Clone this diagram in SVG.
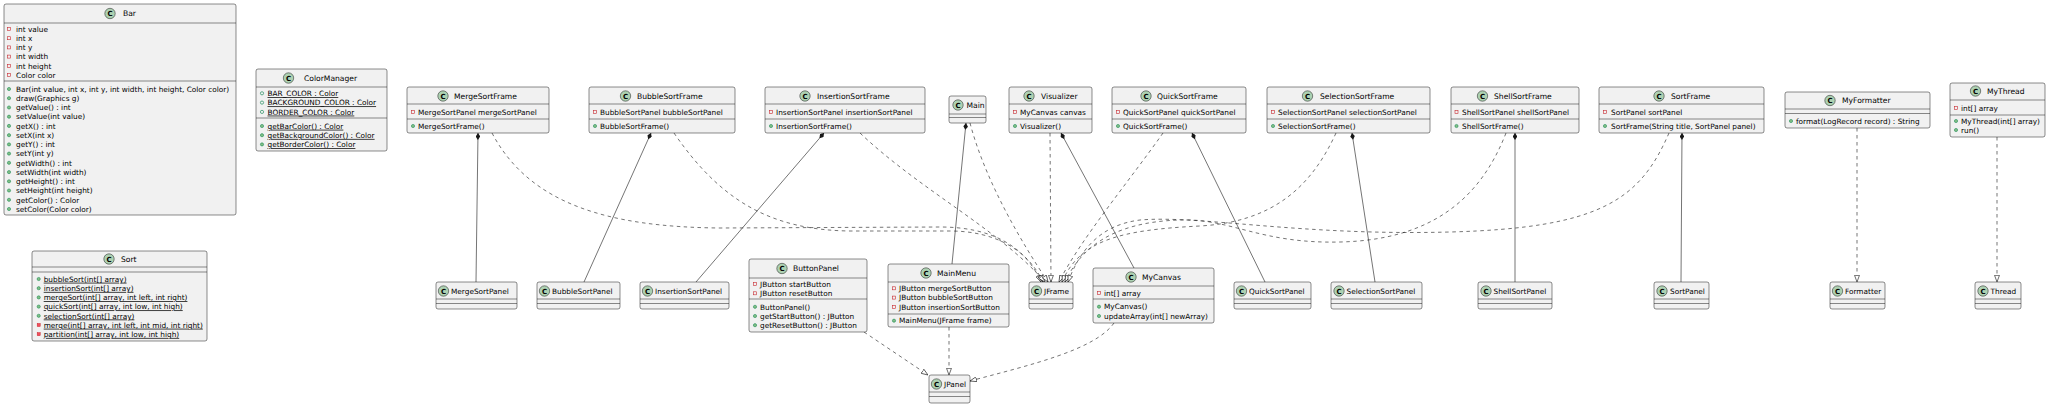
<svg xmlns="http://www.w3.org/2000/svg" width="2048" height="406" viewBox="0 0 2048 406">
<style>
.box{fill:#F1F1F1;stroke:#181818;stroke-width:0.5}
.sep{stroke:#181818;stroke-width:0.5}
.ci{fill:#ADD1B2;stroke:#181818;stroke-width:0.5}
.cl{font-family:"DejaVu Sans",sans-serif;font-size:7px;font-weight:bold;text-anchor:middle;fill:#000}
.t{font-family:"DejaVu Sans",sans-serif;font-size:7.35px;fill:#000}
.h{font-size:7.6px}
.u{text-decoration:underline}
.pv{fill:none;stroke:#C82930;stroke-width:0.6}
.pvm{fill:#F24D5C;stroke:#C82930;stroke-width:0.5}
.pb{fill:#84BE84;stroke:#038048;stroke-width:0.5}
.pbf{fill:none;stroke:#038048;stroke-width:0.6}
.comp{fill:none;stroke:#181818;stroke-width:0.6;marker-end:url(#diamond)}
.inh{fill:none;stroke:#181818;stroke-width:0.6;stroke-dasharray:3.5,3.5;marker-end:url(#tri)}
</style>
<defs>
<marker id="diamond" viewBox="0 0 12 8" refX="12" refY="4" markerWidth="7" markerHeight="4.6" orient="auto" markerUnits="userSpaceOnUse"><path d="M0,4 L6,0 L12,4 L6,8 Z" fill="#181818"/></marker>
<marker id="tri" viewBox="0 0 10 8" refX="10" refY="4" markerWidth="7" markerHeight="5.6" orient="auto" markerUnits="userSpaceOnUse"><path d="M0.5,0.5 L10,4 L0.5,7.5 Z" fill="#ffffff" stroke="#181818" stroke-width="0.9" stroke-dasharray="none"/></marker>
</defs>
<rect x="0" y="0" width="2048" height="406" fill="#ffffff"/>

<g id="connectors">
<path class="comp" d="M476,282 L478,133"/>
<path class="comp" d="M584,282 L651,133"/>
<path class="comp" d="M696,282 L824,133"/>
<path class="comp" d="M952,264 L966,123"/>
<path class="comp" d="M1134,268 L1061,133"/>
<path class="comp" d="M1265,282 L1192,133"/>
<path class="comp" d="M1375,282 L1352,133"/>
<path class="comp" d="M1515,282 L1515,133"/>
<path class="comp" d="M1681,282 L1682,133"/>
<path class="inh" d="M492,133 C530,205 610,227 720,228 L940,227 C990,227 1025,245 1041,282"/>
<path class="inh" d="M674,133 C720,200 770,230 850,231 L950,231 C995,231 1028,250 1043,282"/>
<path class="inh" d="M860,133 C920,190 1000,230 1045,282"/>
<path class="inh" d="M970,123 C985,180 1020,240 1048,282"/>
<path class="inh" d="M1050,133 L1051,282"/>
<path class="inh" d="M1163,133 C1130,180 1080,240 1059,282"/>
<path class="inh" d="M1336,133 C1310,190 1270,222 1200,226 C1120,230 1080,240 1062,282"/>
<path class="inh" d="M1506,133 C1480,200 1430,240 1340,242 C1260,244 1230,218 1180,220 C1110,222 1080,250 1065,282"/>
<path class="inh" d="M1669,133 C1640,200 1600,228 1450,232 C1300,236 1200,215 1140,220 C1100,225 1080,250 1068,282"/>
<path class="inh" d="M1114,323 C1095,350 1030,365 970,381"/>
<path class="inh" d="M864,332 L928,375"/>
<path class="inh" d="M949,327 L949,375"/>
<path class="inh" d="M1857,128 L1857,282"/>
<path class="inh" d="M1997,137 L1997,282"/>
</g>

<g id="Bar">
<rect class="box" x="4" y="4" width="232" height="211" rx="2"/>
<line class="sep" x1="4" y1="23" x2="236" y2="23"/>
<line class="sep" x1="4" y1="81" x2="236" y2="81"/>
<circle class="ci" cx="110" cy="13.5" r="5.2"/><text class="cl" x="110" y="16">C</text>
<text class="t h" x="123" y="16.2">Bar</text>
<rect class="pv" x="7.5" y="27.5" width="3" height="3"/><text class="t" x="16" y="31.7">int value</text>
<rect class="pv" x="7.5" y="36.7" width="3" height="3"/><text class="t" x="16" y="40.9">int x</text>
<rect class="pv" x="7.5" y="45.9" width="3" height="3"/><text class="t" x="16" y="50.1">int y</text>
<rect class="pv" x="7.5" y="55.1" width="3" height="3"/><text class="t" x="16" y="59.3">int width</text>
<rect class="pv" x="7.5" y="64.3" width="3" height="3"/><text class="t" x="16" y="68.5">int height</text>
<rect class="pv" x="7.5" y="73.5" width="3" height="3"/><text class="t" x="16" y="77.7">Color color</text>
<circle class="pb" cx="9" cy="89" r="1.6"/><text class="t" x="16" y="91.7">Bar(int value, int x, int y, int width, int height, Color color)</text>
<circle class="pb" cx="9" cy="98.2" r="1.6"/><text class="t" x="16" y="100.9">draw(Graphics g)</text>
<circle class="pb" cx="9" cy="107.5" r="1.6"/><text class="t" x="16" y="110.2">getValue() : int</text>
<circle class="pb" cx="9" cy="116.7" r="1.6"/><text class="t" x="16" y="119.4">setValue(int value)</text>
<circle class="pb" cx="9" cy="125.9" r="1.6"/><text class="t" x="16" y="128.6">getX() : int</text>
<circle class="pb" cx="9" cy="135.2" r="1.6"/><text class="t" x="16" y="137.9">setX(int x)</text>
<circle class="pb" cx="9" cy="144.4" r="1.6"/><text class="t" x="16" y="147.1">getY() : int</text>
<circle class="pb" cx="9" cy="153.6" r="1.6"/><text class="t" x="16" y="156.3">setY(int y)</text>
<circle class="pb" cx="9" cy="162.8" r="1.6"/><text class="t" x="16" y="165.5">getWidth() : int</text>
<circle class="pb" cx="9" cy="172.1" r="1.6"/><text class="t" x="16" y="174.8">setWidth(int width)</text>
<circle class="pb" cx="9" cy="181.3" r="1.6"/><text class="t" x="16" y="184.0">getHeight() : int</text>
<circle class="pb" cx="9" cy="190.5" r="1.6"/><text class="t" x="16" y="193.2">setHeight(int height)</text>
<circle class="pb" cx="9" cy="199.8" r="1.6"/><text class="t" x="16" y="202.5">getColor() : Color</text>
<circle class="pb" cx="9" cy="209" r="1.6"/><text class="t" x="16" y="211.7">setColor(Color color)</text>
</g>

<g id="ColorManager">
<rect class="box" x="256" y="69" width="131" height="82" rx="2"/>
<line class="sep" x1="256" y1="87" x2="387" y2="87"/>
<line class="sep" x1="256" y1="118" x2="387" y2="118"/>
<circle class="ci" cx="288.5" cy="78" r="5.2"/><text class="cl" x="288.5" y="80.5">C</text>
<text class="t h" x="304" y="80.7">ColorManager</text>
<circle class="pbf" cx="262" cy="93.3" r="1.6"/><text class="t u" x="267.5" y="96">BAR_COLOR : Color</text>
<circle class="pbf" cx="262" cy="102.6" r="1.6"/><text class="t u" x="267.5" y="105.3">BACKGROUND_COLOR : Color</text>
<circle class="pbf" cx="262" cy="111.9" r="1.6"/><text class="t u" x="267.5" y="114.6">BORDER_COLOR : Color</text>
<circle class="pb" cx="262" cy="126" r="1.6"/><text class="t u" x="267.5" y="128.7">getBarColor() : Color</text>
<circle class="pb" cx="262" cy="135.2" r="1.6"/><text class="t u" x="267.5" y="137.9">getBackgroundColor() : Color</text>
<circle class="pb" cx="262" cy="144.4" r="1.6"/><text class="t u" x="267.5" y="147.1">getBorderColor() : Color</text>
</g>

<g id="Sort">
<rect class="box" x="32" y="251" width="175" height="90" rx="2"/>
<line class="sep" x1="32" y1="267" x2="207" y2="267"/>
<line class="sep" x1="32" y1="272" x2="207" y2="272"/>
<circle class="ci" cx="109" cy="259" r="5.2"/><text class="cl" x="109" y="261.5">C</text>
<text class="t h" x="121" y="261.7">Sort</text>
<circle class="pb" cx="38.7" cy="279" r="1.6"/><text class="t u" x="43.7" y="281.7">bubbleSort(int[] array)</text>
<circle class="pb" cx="38.7" cy="288.2" r="1.6"/><text class="t u" x="43.7" y="290.9">insertionSort(int[] array)</text>
<circle class="pb" cx="38.7" cy="297.4" r="1.6"/><text class="t u" x="43.7" y="300.1">mergeSort(int[] array, int left, int right)</text>
<circle class="pb" cx="38.7" cy="306.6" r="1.6"/><text class="t u" x="43.7" y="309.3">quickSort(int[] array, int low, int high)</text>
<circle class="pb" cx="38.7" cy="315.8" r="1.6"/><text class="t u" x="43.7" y="318.5">selectionSort(int[] array)</text>
<rect class="pvm" x="37.2" y="323.5" width="3" height="3"/><text class="t u" x="43.7" y="327.7">merge(int[] array, int left, int mid, int right)</text>
<rect class="pvm" x="37.2" y="332.7" width="3" height="3"/><text class="t u" x="43.7" y="336.9">partition(int[] array, int low, int high)</text>
</g>

<g id="MergeSortFrame">
<rect class="box" x="407" y="87" width="142" height="46" rx="2"/>
<line class="sep" x1="407" y1="104" x2="549" y2="104"/>
<line class="sep" x1="407" y1="119" x2="549" y2="119"/>
<circle class="ci" cx="443" cy="96" r="5.2"/><text class="cl" x="443" y="98.5">C</text>
<text class="t h" x="454" y="98.7">MergeSortFrame</text>
<rect class="pv" x="411.5" y="110.5" width="3" height="3"/><text class="t" x="418" y="114.7">MergeSortPanel mergeSortPanel</text>
<circle class="pb" cx="413" cy="126" r="1.6"/><text class="t" x="418" y="128.7">MergeSortFrame()</text>
</g>

<g id="BubbleSortFrame">
<rect class="box" x="589" y="87" width="146" height="46" rx="2"/>
<line class="sep" x1="589" y1="104" x2="735" y2="104"/>
<line class="sep" x1="589" y1="119" x2="735" y2="119"/>
<circle class="ci" cx="625.5" cy="96" r="5.2"/><text class="cl" x="625.5" y="98.5">C</text>
<text class="t h" x="637" y="98.7">BubbleSortFrame</text>
<rect class="pv" x="593.5" y="110.5" width="3" height="3"/><text class="t" x="600" y="114.7">BubbleSortPanel bubbleSortPanel</text>
<circle class="pb" cx="595" cy="126" r="1.6"/><text class="t" x="600" y="128.7">BubbleSortFrame()</text>
</g>

<g id="InsertionSortFrame">
<rect class="box" x="765" y="87" width="160" height="46" rx="2"/>
<line class="sep" x1="765" y1="104" x2="925" y2="104"/>
<line class="sep" x1="765" y1="119" x2="925" y2="119"/>
<circle class="ci" cx="805" cy="96" r="5.2"/><text class="cl" x="805" y="98.5">C</text>
<text class="t h" x="817" y="98.7">InsertionSortFrame</text>
<rect class="pv" x="769.5" y="110.5" width="3" height="3"/><text class="t" x="776" y="114.7">InsertionSortPanel insertionSortPanel</text>
<circle class="pb" cx="771" cy="126" r="1.6"/><text class="t" x="776" y="128.7">InsertionSortFrame()</text>
</g>

<g id="Main">
<rect class="box" x="949" y="96" width="37" height="27" rx="2"/>
<line class="sep" x1="949" y1="114" x2="986" y2="114"/>
<line class="sep" x1="949" y1="117.5" x2="986" y2="117.5"/>
<circle class="ci" cx="958" cy="105" r="5.2"/><text class="cl" x="958" y="107.5">C</text>
<text class="t h" x="966.5" y="107.7">Main</text>
</g>

<g id="Visualizer">
<rect class="box" x="1009" y="87" width="83" height="46" rx="2"/>
<line class="sep" x1="1009" y1="104" x2="1092" y2="104"/>
<line class="sep" x1="1009" y1="119" x2="1092" y2="119"/>
<circle class="ci" cx="1029" cy="96" r="5.2"/><text class="cl" x="1029" y="98.5">C</text>
<text class="t h" x="1041" y="98.7">Visualizer</text>
<rect class="pv" x="1013.5" y="110.5" width="3" height="3"/><text class="t" x="1020" y="114.7">MyCanvas canvas</text>
<circle class="pb" cx="1015" cy="126" r="1.6"/><text class="t" x="1020" y="128.7">Visualizer()</text>
</g>

<g id="QuickSortFrame">
<rect class="box" x="1112" y="87" width="134" height="46" rx="2"/>
<line class="sep" x1="1112" y1="104" x2="1246" y2="104"/>
<line class="sep" x1="1112" y1="119" x2="1246" y2="119"/>
<circle class="ci" cx="1146" cy="96" r="5.2"/><text class="cl" x="1146" y="98.5">C</text>
<text class="t h" x="1157" y="98.7">QuickSortFrame</text>
<rect class="pv" x="1116.5" y="110.5" width="3" height="3"/><text class="t" x="1123" y="114.7">QuickSortPanel quickSortPanel</text>
<circle class="pb" cx="1118" cy="126" r="1.6"/><text class="t" x="1123" y="128.7">QuickSortFrame()</text>
</g>

<g id="SelectionSortFrame">
<rect class="box" x="1267" y="87" width="163" height="46" rx="2"/>
<line class="sep" x1="1267" y1="104" x2="1430" y2="104"/>
<line class="sep" x1="1267" y1="119" x2="1430" y2="119"/>
<circle class="ci" cx="1307.5" cy="96" r="5.2"/><text class="cl" x="1307.5" y="98.5">C</text>
<text class="t h" x="1320" y="98.7">SelectionSortFrame</text>
<rect class="pv" x="1271.5" y="110.5" width="3" height="3"/><text class="t" x="1278" y="114.7">SelectionSortPanel selectionSortPanel</text>
<circle class="pb" cx="1273" cy="126" r="1.6"/><text class="t" x="1278" y="128.7">SelectionSortFrame()</text>
</g>

<g id="ShellSortFrame">
<rect class="box" x="1451" y="87" width="128" height="46" rx="2"/>
<line class="sep" x1="1451" y1="104" x2="1579" y2="104"/>
<line class="sep" x1="1451" y1="119" x2="1579" y2="119"/>
<circle class="ci" cx="1482.5" cy="96" r="5.2"/><text class="cl" x="1482.5" y="98.5">C</text>
<text class="t h" x="1494" y="98.7">ShellSortFrame</text>
<rect class="pv" x="1455" y="110.5" width="3" height="3"/><text class="t" x="1462" y="114.7">ShellSortPanel shellSortPanel</text>
<circle class="pb" cx="1456.5" cy="126" r="1.6"/><text class="t" x="1462" y="128.7">ShellSortFrame()</text>
</g>

<g id="SortFrame">
<rect class="box" x="1599" y="87" width="165" height="46" rx="2"/>
<line class="sep" x1="1599" y1="104" x2="1764" y2="104"/>
<line class="sep" x1="1599" y1="119" x2="1764" y2="119"/>
<circle class="ci" cx="1659" cy="96" r="5.2"/><text class="cl" x="1659" y="98.5">C</text>
<text class="t h" x="1671" y="98.7">SortFrame</text>
<rect class="pv" x="1603.5" y="110.5" width="3" height="3"/><text class="t" x="1611" y="114.7">SortPanel sortPanel</text>
<circle class="pb" cx="1605" cy="126" r="1.6"/><text class="t" x="1611" y="128.7">SortFrame(String title, SortPanel panel)</text>
</g>

<g id="MyFormatter">
<rect class="box" x="1785" y="92" width="145" height="36" rx="2"/>
<line class="sep" x1="1785" y1="109" x2="1930" y2="109"/>
<line class="sep" x1="1785" y1="113.5" x2="1930" y2="113.5"/>
<circle class="ci" cx="1830" cy="100.5" r="5.2"/><text class="cl" x="1830" y="103">C</text>
<text class="t h" x="1842" y="103.2">MyFormatter</text>
<circle class="pb" cx="1791" cy="121" r="1.6"/><text class="t" x="1796" y="123.7">format(LogRecord record) : String</text>
</g>

<g id="MyThread">
<rect class="box" x="1950" y="83" width="95" height="54" rx="2"/>
<line class="sep" x1="1950" y1="100" x2="2045" y2="100"/>
<line class="sep" x1="1950" y1="115" x2="2045" y2="115"/>
<circle class="ci" cx="1975.5" cy="91" r="5.2"/><text class="cl" x="1975.5" y="93.5">C</text>
<text class="t h" x="1987" y="93.7">MyThread</text>
<rect class="pv" x="1954.5" y="106.5" width="3" height="3"/><text class="t" x="1961" y="110.7">int[] array</text>
<circle class="pb" cx="1956" cy="121" r="1.6"/><text class="t" x="1961" y="123.7">MyThread(int[] array)</text>
<circle class="pb" cx="1956" cy="130" r="1.6"/><text class="t" x="1961" y="132.7">run()</text>
</g>

<g id="MergeSortPanel">
<rect class="box" x="436" y="282" width="81" height="27" rx="2"/>
<line class="sep" x1="436" y1="299" x2="517" y2="299"/>
<line class="sep" x1="436" y1="303.5" x2="517" y2="303.5"/>
<circle class="ci" cx="443.5" cy="291" r="5.2"/><text class="cl" x="443.5" y="293.5">C</text>
<text class="t" x="451" y="293.7">MergeSortPanel</text>
</g>

<g id="BubbleSortPanel">
<rect class="box" x="537" y="282" width="83" height="27" rx="2"/>
<line class="sep" x1="537" y1="299" x2="620" y2="299"/>
<line class="sep" x1="537" y1="303.5" x2="620" y2="303.5"/>
<circle class="ci" cx="544.5" cy="291" r="5.2"/><text class="cl" x="544.5" y="293.5">C</text>
<text class="t" x="552" y="293.7">BubbleSortPanel</text>
</g>

<g id="InsertionSortPanel">
<rect class="box" x="640" y="282" width="89" height="27" rx="2"/>
<line class="sep" x1="640" y1="299" x2="729" y2="299"/>
<line class="sep" x1="640" y1="303.5" x2="729" y2="303.5"/>
<circle class="ci" cx="647.5" cy="291" r="5.2"/><text class="cl" x="647.5" y="293.5">C</text>
<text class="t" x="655" y="293.7">InsertionSortPanel</text>
</g>

<g id="ButtonPanel">
<rect class="box" x="749" y="259" width="118" height="73" rx="2"/>
<line class="sep" x1="749" y1="278" x2="867" y2="278"/>
<line class="sep" x1="749" y1="299" x2="867" y2="299"/>
<circle class="ci" cx="782" cy="268.5" r="5.2"/><text class="cl" x="782" y="271">C</text>
<text class="t h" x="793" y="271.2">ButtonPanel</text>
<rect class="pv" x="753.5" y="282.5" width="3" height="3"/><text class="t" x="760" y="286.7">JButton startButton</text>
<rect class="pv" x="753.5" y="291.8" width="3" height="3"/><text class="t" x="760" y="296">JButton resetButton</text>
<circle class="pb" cx="755" cy="306.8" r="1.6"/><text class="t" x="760" y="309.5">ButtonPanel()</text>
<circle class="pb" cx="755" cy="316" r="1.6"/><text class="t" x="760" y="318.7">getStartButton() : JButton</text>
<circle class="pb" cx="755" cy="325.2" r="1.6"/><text class="t" x="760" y="327.9">getResetButton() : JButton</text>
</g>

<g id="MainMenu">
<rect class="box" x="888" y="264" width="121" height="63" rx="2"/>
<line class="sep" x1="888" y1="282" x2="1009" y2="282"/>
<line class="sep" x1="888" y1="314" x2="1009" y2="314"/>
<circle class="ci" cx="926" cy="273" r="5.2"/><text class="cl" x="926" y="275.5">C</text>
<text class="t h" x="937" y="275.7">MainMenu</text>
<rect class="pv" x="892.5" y="286.8" width="3" height="3"/><text class="t" x="899" y="291">JButton mergeSortButton</text>
<rect class="pv" x="892.5" y="296.1" width="3" height="3"/><text class="t" x="899" y="300.3">JButton bubbleSortButton</text>
<rect class="pv" x="892.5" y="305.4" width="3" height="3"/><text class="t" x="899" y="309.6">JButton insertionSortButton</text>
<circle class="pb" cx="894" cy="320.7" r="1.6"/><text class="t" x="899" y="323.4">MainMenu(JFrame frame)</text>
</g>

<g id="JFrame">
<rect class="box" x="1029" y="282" width="44" height="27" rx="2"/>
<line class="sep" x1="1029" y1="299" x2="1073" y2="299"/>
<line class="sep" x1="1029" y1="303.5" x2="1073" y2="303.5"/>
<circle class="ci" cx="1036.5" cy="291" r="5.2"/><text class="cl" x="1036.5" y="293.5">C</text>
<text class="t" x="1044" y="293.7">JFrame</text>
</g>

<g id="JPanel">
<rect class="box" x="929" y="375" width="41" height="28" rx="2"/>
<line class="sep" x1="929" y1="392" x2="970" y2="392"/>
<line class="sep" x1="929" y1="396.5" x2="970" y2="396.5"/>
<circle class="ci" cx="936.5" cy="384" r="5.2"/><text class="cl" x="936.5" y="386.5">C</text>
<text class="t" x="944" y="386.7">JPanel</text>
</g>

<g id="MyCanvas">
<rect class="box" x="1093" y="268" width="121" height="55" rx="2"/>
<line class="sep" x1="1093" y1="286" x2="1214" y2="286"/>
<line class="sep" x1="1093" y1="299" x2="1214" y2="299"/>
<circle class="ci" cx="1131" cy="277" r="5.2"/><text class="cl" x="1131" y="279.5">C</text>
<text class="t h" x="1142" y="279.7">MyCanvas</text>
<rect class="pv" x="1097.5" y="291.5" width="3" height="3"/><text class="t" x="1104" y="295.7">int[] array</text>
<circle class="pb" cx="1099" cy="306.7" r="1.6"/><text class="t" x="1104" y="309.4">MyCanvas()</text>
<circle class="pb" cx="1099" cy="316" r="1.6"/><text class="t" x="1104" y="318.7">updateArray(int[] newArray)</text>
</g>

<g id="QuickSortPanel">
<rect class="box" x="1234" y="282" width="77" height="27" rx="2"/>
<line class="sep" x1="1234" y1="299" x2="1311" y2="299"/>
<line class="sep" x1="1234" y1="303.5" x2="1311" y2="303.5"/>
<circle class="ci" cx="1241.5" cy="291" r="5.2"/><text class="cl" x="1241.5" y="293.5">C</text>
<text class="t" x="1249" y="293.7">QuickSortPanel</text>
</g>

<g id="SelectionSortPanel">
<rect class="box" x="1331" y="282" width="91" height="27" rx="2"/>
<line class="sep" x1="1331" y1="299" x2="1422" y2="299"/>
<line class="sep" x1="1331" y1="303.5" x2="1422" y2="303.5"/>
<circle class="ci" cx="1339" cy="291" r="5.2"/><text class="cl" x="1339" y="293.5">C</text>
<text class="t" x="1346.5" y="293.7">SelectionSortPanel</text>
</g>

<g id="ShellSortPanel">
<rect class="box" x="1478" y="282" width="74" height="27" rx="2"/>
<line class="sep" x1="1478" y1="299" x2="1552" y2="299"/>
<line class="sep" x1="1478" y1="303.5" x2="1552" y2="303.5"/>
<circle class="ci" cx="1486" cy="291" r="5.2"/><text class="cl" x="1486" y="293.5">C</text>
<text class="t" x="1493.5" y="293.7">ShellSortPanel</text>
</g>

<g id="SortPanel">
<rect class="box" x="1654" y="282" width="55" height="27" rx="2"/>
<line class="sep" x1="1654" y1="299" x2="1709" y2="299"/>
<line class="sep" x1="1654" y1="303.5" x2="1709" y2="303.5"/>
<circle class="ci" cx="1662" cy="291" r="5.2"/><text class="cl" x="1662" y="293.5">C</text>
<text class="t" x="1670" y="293.7">SortPanel</text>
</g>

<g id="Formatter">
<rect class="box" x="1830" y="282" width="55" height="27" rx="2"/>
<line class="sep" x1="1830" y1="299" x2="1885" y2="299"/>
<line class="sep" x1="1830" y1="303.5" x2="1885" y2="303.5"/>
<circle class="ci" cx="1837.5" cy="291" r="5.2"/><text class="cl" x="1837.5" y="293.5">C</text>
<text class="t" x="1845" y="293.7">Formatter</text>
</g>

<g id="Thread">
<rect class="box" x="1975" y="282" width="46" height="27" rx="2"/>
<line class="sep" x1="1975" y1="299" x2="2021" y2="299"/>
<line class="sep" x1="1975" y1="303.5" x2="2021" y2="303.5"/>
<circle class="ci" cx="1983" cy="291" r="5.2"/><text class="cl" x="1983" y="293.5">C</text>
<text class="t" x="1990.5" y="293.7">Thread</text>
</g>
</svg>
